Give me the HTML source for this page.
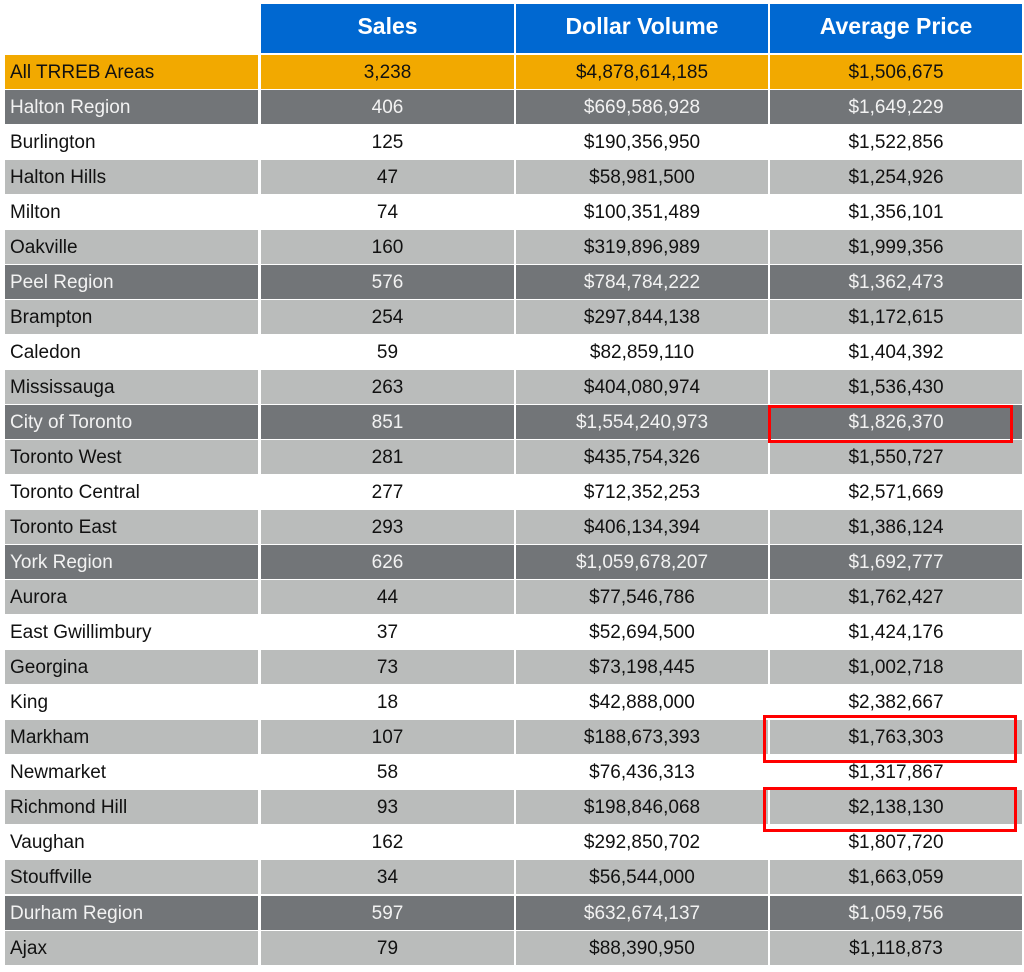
<!DOCTYPE html>
<html>
<head>
<meta charset="utf-8">
<style>
html,body{margin:0;padding:0;background:#fff;}
body{width:1024px;height:972px;position:relative;overflow:hidden;font-family:"Liberation Sans",Arial,sans-serif;}
.h{position:absolute;top:4px;height:49px;line-height:44px;background:#0068d1;color:#fff;font-weight:bold;font-size:23px;text-align:center;}
.r{position:absolute;left:0;width:1024px;height:34px;}
.c{position:absolute;top:0;height:34px;line-height:35px;font-size:19px;text-align:center;white-space:nowrap;}
.c1{left:5px;width:253px;text-align:left;padding-left:5px;box-sizing:border-box;}
.c2{left:261px;width:253px;}
.c3{left:516px;width:252px;}
.c4{left:770px;width:252px;}
.o .c{background:#f2a900;color:#111;}
.d .c{background:#727578;color:#f2f2f2;}
.w .c{background:#fff;color:#111;}
.g .c{background:#babcbb;color:#111;}
.box{position:absolute;border:3px solid #f00;box-sizing:border-box;}
</style>
</head>
<body>
<div class="h" style="left:261px;width:253px;">Sales</div>
<div class="h" style="left:516px;width:252px;">Dollar Volume</div>
<div class="h" style="left:770px;width:252px;">Average Price</div>

<div class="r o" style="top:55px"><div class="c c1">All TRREB Areas</div><div class="c c2">3,238</div><div class="c c3">$4,878,614,185</div><div class="c c4">$1,506,675</div></div>
<div class="r d" style="top:90px"><div class="c c1">Halton Region</div><div class="c c2">406</div><div class="c c3">$669,586,928</div><div class="c c4">$1,649,229</div></div>
<div class="r w" style="top:125px"><div class="c c1">Burlington</div><div class="c c2">125</div><div class="c c3">$190,356,950</div><div class="c c4">$1,522,856</div></div>
<div class="r g" style="top:160px"><div class="c c1">Halton Hills</div><div class="c c2">47</div><div class="c c3">$58,981,500</div><div class="c c4">$1,254,926</div></div>
<div class="r w" style="top:195px"><div class="c c1">Milton</div><div class="c c2">74</div><div class="c c3">$100,351,489</div><div class="c c4">$1,356,101</div></div>
<div class="r g" style="top:230px"><div class="c c1">Oakville</div><div class="c c2">160</div><div class="c c3">$319,896,989</div><div class="c c4">$1,999,356</div></div>
<div class="r d" style="top:265px"><div class="c c1">Peel Region</div><div class="c c2">576</div><div class="c c3">$784,784,222</div><div class="c c4">$1,362,473</div></div>
<div class="r g" style="top:300px"><div class="c c1">Brampton</div><div class="c c2">254</div><div class="c c3">$297,844,138</div><div class="c c4">$1,172,615</div></div>
<div class="r w" style="top:335px"><div class="c c1">Caledon</div><div class="c c2">59</div><div class="c c3">$82,859,110</div><div class="c c4">$1,404,392</div></div>
<div class="r g" style="top:370px"><div class="c c1">Mississauga</div><div class="c c2">263</div><div class="c c3">$404,080,974</div><div class="c c4">$1,536,430</div></div>
<div class="r d" style="top:405px"><div class="c c1">City of Toronto</div><div class="c c2">851</div><div class="c c3">$1,554,240,973</div><div class="c c4">$1,826,370</div></div>
<div class="r g" style="top:440px"><div class="c c1">Toronto West</div><div class="c c2">281</div><div class="c c3">$435,754,326</div><div class="c c4">$1,550,727</div></div>
<div class="r w" style="top:475px"><div class="c c1">Toronto Central</div><div class="c c2">277</div><div class="c c3">$712,352,253</div><div class="c c4">$2,571,669</div></div>
<div class="r g" style="top:510px"><div class="c c1">Toronto East</div><div class="c c2">293</div><div class="c c3">$406,134,394</div><div class="c c4">$1,386,124</div></div>
<div class="r d" style="top:545px"><div class="c c1">York Region</div><div class="c c2">626</div><div class="c c3">$1,059,678,207</div><div class="c c4">$1,692,777</div></div>
<div class="r g" style="top:580px"><div class="c c1">Aurora</div><div class="c c2">44</div><div class="c c3">$77,546,786</div><div class="c c4">$1,762,427</div></div>
<div class="r w" style="top:615px"><div class="c c1">East Gwillimbury</div><div class="c c2">37</div><div class="c c3">$52,694,500</div><div class="c c4">$1,424,176</div></div>
<div class="r g" style="top:650px"><div class="c c1">Georgina</div><div class="c c2">73</div><div class="c c3">$73,198,445</div><div class="c c4">$1,002,718</div></div>
<div class="r w" style="top:685px"><div class="c c1">King</div><div class="c c2">18</div><div class="c c3">$42,888,000</div><div class="c c4">$2,382,667</div></div>
<div class="r g" style="top:720px"><div class="c c1">Markham</div><div class="c c2">107</div><div class="c c3">$188,673,393</div><div class="c c4">$1,763,303</div></div>
<div class="r w" style="top:755px"><div class="c c1">Newmarket</div><div class="c c2">58</div><div class="c c3">$76,436,313</div><div class="c c4">$1,317,867</div></div>
<div class="r g" style="top:790px"><div class="c c1">Richmond Hill</div><div class="c c2">93</div><div class="c c3">$198,846,068</div><div class="c c4">$2,138,130</div></div>
<div class="r w" style="top:825px"><div class="c c1">Vaughan</div><div class="c c2">162</div><div class="c c3">$292,850,702</div><div class="c c4">$1,807,720</div></div>
<div class="r g" style="top:860px"><div class="c c1">Stouffville</div><div class="c c2">34</div><div class="c c3">$56,544,000</div><div class="c c4">$1,663,059</div></div>
<div class="r d" style="top:896px"><div class="c c1">Durham Region</div><div class="c c2">597</div><div class="c c3">$632,674,137</div><div class="c c4">$1,059,756</div></div>
<div class="r g" style="top:931px"><div class="c c1">Ajax</div><div class="c c2">79</div><div class="c c3">$88,390,950</div><div class="c c4">$1,118,873</div></div>

<div class="box" style="left:768px;top:405px;width:245px;height:38px;"></div>
<div class="box" style="left:763px;top:715px;width:254px;height:48px;"></div>
<div class="box" style="left:763px;top:787px;width:254px;height:45px;"></div>
</body>
</html>
